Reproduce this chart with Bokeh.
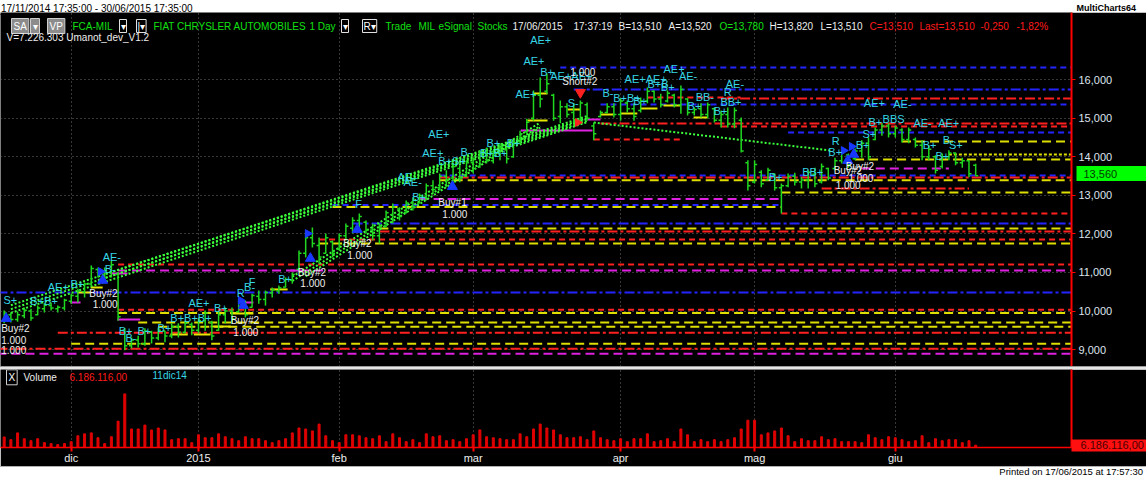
from bokeh.plotting import figure
from bokeh.models import (Range1d, LinearAxis, FixedTicker, NumeralTickFormatter, Label, Grid,
                          ColumnDataSource, Div)
from bokeh.layouts import column
from bokeh.embed import file_html
from bokeh.resources import INLINE
from bokeh.core.properties import value

# ---------------- data ----------------
month_idx = [10, 29, 50, 70, 92, 112, 133]
month_lbl = ["dic", "2015", "feb", "mar", "apr", "mag", "giu"]
price_ticks = [9000, 10000, 11000, 12000, 13000, 14000, 15000, 16000]

bar_open = [9750, 9900, 9780, 9880, 10000, 9900, 10060, 10140, 10060, 10080,
            10250, 10380, 10500, 10700, 11080, 10950, 11000, 10950, 9500, 9100,
            9250, 9150, 9450, 9300, 9480, 9350, 9600, 9450, 9650, 9500,
            9750, 9700, 9500, 9900, 10000, 9980, 10200, 10100, 10380, 10300,
            10470, 10520, 10620, 10800, 11080, 11500, 11900, 11700, 11500, 11800,
            11600, 11950, 12150, 12350, 12300, 12100, 11950, 12200, 12500, 12650,
            12550, 12800, 12800, 12950, 13250, 13200, 13500, 13450, 13700, 13500,
            13850, 13750, 14100, 13900, 14100, 14200, 14000, 14400, 14650, 15000,
            15600, 15700, 15600, 15050, 15300, 15150, 14950, 15350, 14800, 15050,
            15150, 15300, 15100, 15400, 15250, 15200, 15450, 15700, 15500, 15450,
            15600, 15350, 15500, 15150, 15250, 15100, 15250, 14950, 15100, 14850,
            14950, 13850, 13350, 13600, 13400, 13550, 13200, 13250, 13500, 13350,
            13400, 13550, 13350, 13700, 13700, 13900, 14050, 13950, 14150, 14350,
            14450, 14700, 14800, 14600, 14700, 14450, 14450, 14300, 14000, 14000,
            13750, 14000, 14100, 13850, 13900, 13780]
bar_high = [10010, 9960, 9980, 10090, 10060, 10140, 10200, 10220, 10140, 10320,
            10450, 10580, 10740, 11180, 11130, 11130, 11310, 11000, 9550, 9310,
            9360, 9550, 9490, 9570, 9490, 9680, 9680, 9750, 9700, 9810,
            10010, 9750, 10010, 10090, 10090, 10320, 10270, 10450, 10530, 10530,
            10610, 10660, 10870, 11000, 11570, 12040, 12170, 11910, 12010, 11830,
            12010, 12270, 12430, 12530, 12350, 12270, 12270, 12610, 12790, 12690,
            12870, 12950, 13050, 13310, 13390, 13570, 13650, 13830, 13780, 13910,
            13980, 14170, 14240, 14170, 14350, 14240, 14430, 14680, 14990, 15720,
            16060, 16160, 15640, 15460, 15390, 15390, 15460, 15410, 14890, 15200,
            15390, 15390, 15520, 15460, 15390, 15540, 15800, 15720, 15640, 15720,
            15640, 15850, 15520, 15280, 15390, 15410, 15280, 15200, 15280, 15280,
            15020, 13910, 13910, 13650, 13720, 13570, 13310, 13570, 13590, 13470,
            13650, 13720, 13830, 13720, 13980, 14170, 14090, 14220, 14430, 14500,
            14760, 14870, 14870, 14810, 14740, 14760, 14500, 14430, 14300, 14040,
            14090, 14170, 14110, 13980, 13910, 13820]
bar_low = [9680, 9700, 9720, 9810, 9750, 9890, 9960, 10010, 9960, 10010,
           10190, 10220, 10350, 10660, 10870, 10790, 10870, 9750, 8980, 9030,
           9050, 9100, 9160, 9240, 9190, 9290, 9310, 9420, 9370, 9420,
           9490, 9240, 9490, 9680, 9680, 9960, 9830, 10090, 10190, 10140,
           10350, 10450, 10610, 10710, 11050, 11390, 11650, 11230, 11490, 11390,
           11570, 11830, 12010, 12170, 12010, 11830, 11750, 12170, 12270, 12350,
           12530, 12610, 12790, 12870, 13050, 13130, 13210, 13390, 13340, 13470,
           13570, 13720, 13830, 13830, 13910, 13830, 13980, 14350, 14610, 14940,
           15280, 15640, 14940, 14870, 15020, 14870, 14870, 14940, 14430, 15020,
           15130, 15020, 14940, 15150, 14940, 15150, 15390, 15410, 15280, 15410,
           15280, 15120, 15070, 15070, 15020, 15000, 14890, 14760, 14760, 14740,
           14110, 13130, 13310, 13210, 13390, 13130, 12530, 13210, 13260, 13180,
           13180, 13210, 13310, 13390, 13650, 13830, 13720, 13910, 13980, 13910,
           14430, 14550, 14500, 14500, 14370, 14350, 14240, 13910, 13910, 13570,
           13700, 13910, 13780, 13720, 13470, 13510]
bar_close = [9950, 9780, 9900, 10020, 9820, 10080, 10150, 10080, 10100, 10280,
             10400, 10520, 10700, 11100, 10950, 11050, 11200, 9850, 9100, 9250,
             9150, 9480, 9300, 9500, 9350, 9600, 9450, 9680, 9500, 9750,
             9950, 9350, 9900, 10000, 9800, 10250, 9900, 10400, 10300, 10480,
             10550, 10600, 10820, 10950, 11500, 11900, 11750, 11400, 11900, 11500,
             11950, 12200, 12350, 12450, 12100, 11950, 12200, 12550, 12700, 12450,
             12800, 12700, 13000, 13250, 13150, 13500, 13400, 13750, 13450, 13850,
             13700, 14100, 13900, 14100, 14250, 13950, 14350, 14600, 14900, 15600,
             15500, 15900, 15000, 15300, 15100, 14950, 15400, 15000, 14600, 15150,
             15300, 15100, 15450, 15250, 15050, 15450, 15700, 15500, 15350, 15650,
             15350, 15750, 15150, 15230, 15100, 15350, 14950, 15100, 14850, 15200,
             14150, 13250, 13800, 13300, 13650, 13200, 13250, 13500, 13350, 13400,
             13600, 13300, 13750, 13450, 13900, 14100, 13800, 14150, 14350, 14000,
             14700, 14800, 14600, 14750, 14450, 14700, 14300, 14000, 14200, 13650,
             14000, 14100, 13850, 13900, 13560, 13510]
volume_m = [10.4, 9.0, 12.5, 9.5, 8.5, 9.5, 7.5, 7.0, 6.5, 7.0,
            8.0, 11.0, 12.0, 12.5, 10.0, 7.0, 10.5, 18.5, 32.5, 14.5,
            14.5, 16.5, 14.0, 15.0, 14.0, 9.0, 9.5, 9.5, 7.5,
            11.5, 10.0, 10.0, 12.0, 10.5, 9.5, 8.5, 10.5, 9.5, 9.5, 8.5,
            7.5, 8.5, 9.5, 12.5, 15.0, 14.5, 13.5, 17.0, 11.0, 8.5,
            7.5, 11.5, 11.5, 11.0, 10.0, 9.5, 11.0, 8.0, 12.0, 10.0,
            8.0, 9.0, 7.5, 12.0, 10.5, 11.0, 8.5, 9.0, 8.0, 9.5,
            11.5, 14.0, 10.5, 10.0, 9.5, 9.0, 9.0, 12.0, 10.5, 14.5,
            17.0, 15.0, 14.0, 11.5, 10.0, 10.0, 10.5, 9.0, 13.5, 10.0,
            9.0, 8.5, 9.5, 8.0, 9.5, 9.5, 12.0, 8.0, 8.5, 9.5,
            8.0, 14.5, 11.5, 8.0, 9.0, 8.0, 9.0, 8.0, 9.0, 10.0,
            14.5, 19.0, 19.0, 11.5, 12.5, 13.5, 15.0, 11.0, 8.0, 9.5,
            8.5, 8.5, 10.5, 9.0, 9.5, 8.0, 8.0, 8.0, 7.5, 11.5,
            10.0, 9.0, 10.5, 10.0, 9.0, 8.0, 8.5, 11.0, 7.5, 9.5,
            8.5, 9.0, 9.0, 7.5, 8.5, 6.19]

# horizontal level lines (kind, price, from bar, to bar; None = open to the right)
lvl_kind = ["blue_dash", "blue_dd", "red_dd", "blue_dash", "red_dd", "red_dash", "blue_dash",
            "yel_dash", "yel_dot", "yel_dash", "mag_dash", "blue_dash", "red_dd", "yel_dash",
            "red_dd", "yel_dash", "mag_dash", "blue_dash", "yel_dash", "red_dash", "blue_dd",
            "yel_dash", "red_dd", "red_dash", "yel_dash", "red_dash", "mag_dash", "blue_dd",
            "red_dash", "yel_dash", "yel_dash", "yel_dash", "red_dd", "yel_dash", "red_dd", "mag_dash"]
lvl_price = [16320, 15750, 15515, 15360, 14865, 14790, 14635,
             14400, 14060, 13930, 13700, 13515, 13465, 13390,
             13180, 13075, 12905, 12750, 12700, 12530, 12270,
             12140, 12065, 11855, 11750, 11205, 11050, 10480,
             10030, 9950, 9700, 9590, 9435, 9150, 9020, 8890]
lvl_from = [83, 85, 107, 89, 89, 107, 117,
            134, 141, 127, 128, 65, 65, 65,
            122, 116, 62, 49, 49, 116, 52,
            56, 56, 47, 47, 17, 17, -1,
            17, 17, 20, 23, 8, 10, -1, -1]
lvl_to = [None, None, None, None, None, None, None,
          None, None, None, 141, None, None, None,
          144, None, 116, 116, 116, None, None,
          None, None, None, None, None, None, None,
          None, None, None, None, None, None, None, None]

# short signal boxes (kind, from bar, to bar, price)
box_kind = ["yel", "mag", "yel", "mag", "mag", "yel", "yel", "yel", "yel", "mag", "yel", "mag",
            "yel", "mag", "yel", "yel", "mag", "red", "yel", "yel", "yel", "yel", "yel", "red"]
box_from = [10.9, 9.9, 12.9, 15.9, 16.9, 24.8, 28.3, 30.8, 33.8, 35.3, 39.7, 42.7,
            78.1, 77.1, 79.0, 84.1, 87.1, 88.0, 89.0, 92.0, 95.0, 98.4, 102.9, 96.0]
box_to = [12.9, 11.4, 14.7, 18.4, 20.3, 27.4, 30.8, 33.8, 37.2, 37.2, 42.3, 44.2,
          81.1, 87.8, 81.1, 86.0, 89.0, 100.9, 90.9, 94.5, 97.5, 100.9, 105.0, 109.9]
box_price = [10480, 10220, 10610, 10975, 9780, 9390, 9390, 9600, 9935, 10220, 10560, 11050,
             14945, 14685, 15645, 15230, 14970, 14450, 15100, 15125, 15255, 15335, 15020, 15540]

# dotted trend lines
trend_x0 = [1, 1, 1, 14, 14, 43, 43, 45, 88]
trend_p0 = [10150, 10050, 9950, 10900, 10800, 10890, 10780, 10900, 14890]
trend_x1 = [87, 87, 87, 87, 87, 80, 80, 80, 123.4]
trend_p1 = [15060, 14980, 14900, 15010, 14930, 14890, 14800, 14760, 14165]

# cyan signal labels
sig_text = ["S+", "B+B+", "AE+", "B+", "AE-", "B-", "B+", "B-", "B+", "B+", "B+B+B+", "AE+", "B+",
            "R", "B-", "F", "B+", "F", "AE", "AE-", "B+", "AE+", "AE+", "B+S+", "B-", "B+B+",
            "B+", "B+", "AE+", "AE+", "B+", "AE+AE+", "AE+", "S-", "B-", "B+B+", "B+", "AE+AE+",
            "B+B", "B+", "AE+", "AE-", "BB-", "B+", "B+", "BB+", "R", "AE-", "B+", "BB+", "R",
            "B+", "B+", "S+", "B+", "AE+", "AE-", "BBS", "AE-", "AE+", "B+", "B", "S+", "B+"]
sig_x = [-0.1, 3.9, 6.5, 9.9, 14.7, 15.0, 17.1, 18.1, 19.9, 22.9, 24.8, 27.5, 31.3,
         34.7, 35.8, 36.5, 40.9, 52.4, 58.7, 59.6, 60.9, 62.4, 63.3, 64.8, 68.1, 71.0,
         72.0, 75.0, 78.5, 77.5, 80.0, 81.5, 76.3, 84.1, 89.3, 90.9, 93.9, 92.6,
         96.0, 98.0, 98.4, 100.7, 103.2, 102.0, 105.9, 106.9, 107.4, 107.7, 114.1, 119.1, 123.5,
         123.0, 127.1, 128.1, 129.0, 128.3, 132.7, 131.1, 135.7, 139.4, 137.1, 140.1, 141.0, 139.0]
sig_p = [10275, 10250, 10610, 10690, 11390, 11100, 9490, 9310, 9490, 9570, 9810, 10195, 10090,
         10455, 10610, 10740, 10820, 12770, 13465, 13335, 12950, 14090, 14585, 13905, 14115, 14090,
         14350, 14350, 17020, 16500, 16190, 16110, 15640, 15410, 15670, 15540, 15460, 16010,
         15900, 15825, 16290, 16110, 15565, 15330, 15200, 15435, 15695, 15900, 13465, 13595, 14400,
         14115, 14320, 14605, 14915, 15385, 15360, 14995, 14890, 14890, 14295, 14425, 14320, 14035]

# white order labels
ord_text = ["Buy#2", "1.000", "1.000", "Buy#2", "1.000", "Buy#2", "1.000", "Buy#2", "1.000",
            "Buy#2", "1.000", "Buy#1", "1.000", "1.000", "Short#2", "Buy#2", "1.000", "Buy#2", "1.000"]
ord_x = [-0.45, -0.45, -0.45, 12.7, 13.2, 33.8, 34.2, 43.8, 44.2,
         50.6, 51.2, 64.8, 65.4, 84.5, 83.3, 123.8, 124.1, 125.6, 126.0]
ord_p = [9545, 9260, 9000, 10455, 10170, 9755, 9445, 11000, 10715,
         11750, 11465, 12815, 12530, 16215, 15955, 13645, 13280, 13750, 13440]

buy_x = [0.3, 14.7, 35.7, 45.7, 52.7, 66.9, 125.9, 126.8]
buy_p = [9805, 10795, 10145, 11365, 12115, 13230, 13905, 14065]
short_x = [86.0]
short_p = [15670]
entry_x = [14.4, 35.3, 45.3, 125.3, 126.5]
entry_p = [11025, 10275, 12010, 14165, 14270]
exit_x = [85.6]
exit_p = [14890]

last_price_label = "13,560"
last_price = 13560
last_volume_label = "6.186.116,00"
last_volume = 6.19

# ---------------- layout / style ----------------
W = 1146
AXW = 75
FW = W - AXW          # 1071
PH = 354
VH = 97
X0, X1 = -0.55, 159.3
P0, P1 = 8560, 17746
VOL_BASE, VOL_TOP = 5.0, 45.0
FONT = "Liberation Sans"
CYAN = "#36d6e6"
GREEN = "#12e012"
REDT = "#ff1a1a"
WHITE = "#eeeeee"
BAR = "#1fd81f"
DOT = "#3cff3c"
GRID = "#6e6e6e"
MAIN_W = 41           # approx. width of the price axis (tick + standoff + labels)

LSTY = {
    "blue_dash": ("#2424ff", "6 4"),
    "blue_dd": ("#2424ff", "10 3 3 3"),
    "red_dash": ("#ff2020", "6 4"),
    "red_dd": ("#ff2020", "10 3 3 3"),
    "yel_dash": ("#dede00", "9 5"),
    "yel_dot": ("#dede00", "3 2"),
    "mag_dash": ("#e020e0", "9 5"),
}
BSTY = {"yel": "#e6e600", "mag": "#e020e0", "red": "#ff2020"}


def hy(y):
    return PH - (y - 12)


# top strip
top = Div(text=('<div style="display:flex;justify-content:space-between;align-items:center;'
                'height:12px;width:1146px;background:#ffffff;color:#000;font-family:\'Liberation Sans\';'
                'font-size:10px;line-height:11px;overflow:hidden;border-bottom:1px solid #909090;box-sizing:border-box;">'
                '<span style="padding-left:1px;">17/11/2014 17:35:00 - 30/06/2015 17:35:00</span>'
                '<span style="font-weight:bold;font-size:9px;padding-right:10px;">MultiCharts64</span></div>'),
          width=W, height=12, margin=0)

# price pane
pp = figure(width=W, height=PH, x_range=Range1d(X0, X1), y_range=Range1d(P0, P1),
            output_backend="svg", toolbar_location=None, x_axis_location=None, y_axis_location="right",
            background_fill_color="black", border_fill_color="black", outline_line_color=None,
            min_border_left=0, min_border_top=0, min_border_bottom=0, min_border_right=AXW)
for g in pp.xgrid:
    g.visible = False
ya = pp.yaxis[0]
ya.ticker = FixedTicker(ticks=price_ticks)
ya.formatter = NumeralTickFormatter(format="0,0")
ya.axis_line_color = "#ff0000"
ya.axis_line_width = 2
ya.major_tick_line_color = "#ff0000"
ya.major_tick_out = 4
ya.major_tick_in = 0
ya.minor_tick_line_color = None
ya.major_label_text_color = "#dde4ee"
ya.major_label_text_font = FONT
ya.major_label_text_font_size = "11px"
ya.major_label_standoff = 3
pp.ygrid.grid_line_color = GRID
pp.ygrid.grid_line_dash = "1 3"
pp.add_layout(Grid(dimension=0, ticker=FixedTicker(ticks=month_idx), grid_line_color=GRID, grid_line_dash="1 3"))

# last price marker drawn by a second axis (tick = box, label = value)
mark = LinearAxis(ticker=FixedTicker(ticks=[last_price]),
                  major_label_overrides={last_price: last_price_label},
                  axis_line_color=None, minor_tick_line_color=None,
                  major_tick_line_color="#00ff00", major_tick_line_width=15,
                  major_tick_in=MAIN_W - 2, major_tick_out=AXW - MAIN_W,
                  major_label_standoff=-66, major_label_text_color="#003a00",
                  major_label_text_font=FONT, major_label_text_font_size="11px")
pp.add_layout(mark, "right")

# level lines
for kind, (col, dash) in LSTY.items():
    xs0, xs1, ps = [], [], []
    for k, pr, a, b in zip(lvl_kind, lvl_price, lvl_from, lvl_to):
        if k == kind:
            xs0.append(a)
            xs1.append(X1 if b is None else b)
            ps.append(pr)
    if xs0:
        pp.segment(x0=xs0, y0=ps, x1=xs1, y1=ps, line_color=col, line_width=2, line_dash=dash)

# short signal boxes
for kind, col in BSTY.items():
    sel = [i for i, k in enumerate(box_kind) if k == kind]
    pp.segment(x0=[box_from[i] for i in sel], y0=[box_price[i] for i in sel],
               x1=[box_to[i] for i in sel], y1=[box_price[i] for i in sel],
               line_color=col, line_width=2, line_dash="solid" if kind != "red" else "6 4")

# dotted trend lines
pp.segment(x0=trend_x0, y0=trend_p0, x1=trend_x1, y1=trend_p1, line_color=DOT, line_width=2, line_dash="2 2")

# OHLC bars
idx = list(range(len(bar_close)))
src = ColumnDataSource(dict(i=idx, o=bar_open, h=bar_high, l=bar_low, c=bar_close,
                            il=[i - 0.38 for i in idx], ir=[i + 0.38 for i in idx]))
pp.segment(x0="i", y0="l", x1="i", y1="h", source=src, line_color=BAR, line_width=1.5)
pp.segment(x0="il", y0="o", x1="i", y1="o", source=src, line_color=BAR, line_width=1.5)
pp.segment(x0="i", y0="c", x1="ir", y1="c", source=src, line_color=BAR, line_width=1.5)

# markers
pp.scatter(x=buy_x, y=buy_p, marker="triangle", size=10, fill_color="#1838ff", line_color="#1838ff")
pp.scatter(x=short_x, y=short_p, marker="inverted_triangle", size=10, fill_color="#ff2020", line_color="#ff2020")
pp.scatter(x=entry_x, y=entry_p, marker="triangle", angle=-1.5708, size=8, fill_color="#1838ff", line_color="#1838ff")
pp.scatter(x=exit_x, y=exit_p, marker="triangle", angle=-1.5708, size=8, fill_color="#ff2020", line_color="#ff2020")

# texts
pp.text(x=sig_x, y=sig_p, text=sig_text, text_font=value(FONT), text_font_size="11px",
        text_color=CYAN, text_baseline="middle", text_align="left")
pp.text(x=ord_x, y=ord_p, text=ord_text, text_font=value(FONT), text_font_size="10px",
        text_color=WHITE, text_baseline="middle", text_align="left")

# header
row1 = hy(25.5)
hdr = [("FCA-MIL", 72, GREEN), ("FIAT CHRYSLER AUTOMOBILES", 153, GREEN), ("1 Day", 309, GREEN),
       ("Trade", 385, GREEN), ("MIL", 418, GREEN), ("eSignal", 438, GREEN), ("Stocks", 477, GREEN),
       ("17/06/2015", 512, WHITE), ("17:37:19", 573, WHITE), ("B=13,510", 618, WHITE),
       ("A=13,520", 668, WHITE), ("O=13,780", 719, GREEN), ("H=13,820", 769, WHITE),
       ("L=13,510", 820, WHITE), ("C=13,510", 869, REDT), ("Last=13,510", 919, REDT),
       ("-0,250", 980, REDT), ("-1,82%", 1016, REDT)]
for t, x, c in hdr:
    pp.add_layout(Label(x=x, y=row1, x_units="screen", y_units="screen", text=t, text_font=FONT,
                        text_font_size="10px", text_color=c, text_baseline="middle"))
for t, x, bg in [("SA", 11, "#8c8c8c"), ("▾", 30, "#8c8c8c"), ("VP", 47, "#8c8c8c")]:
    pp.add_layout(Label(x=x, y=row1, x_units="screen", y_units="screen", text=t, text_font=FONT,
                        text_font_size="10px", text_color="white", text_baseline="middle",
                        background_fill_color=bg, border_line_color="#d0d0d0", padding=2))
for t, x in [("▾", 119), ("|▾", 136), ("▾", 341), ("R▾", 362)]:
    pp.add_layout(Label(x=x, y=row1, x_units="screen", y_units="screen", text=t, text_font=FONT,
                        text_font_size="10px", text_color="white", text_baseline="middle",
                        background_fill_color="black", border_line_color="#e0e0e0", padding=1))
pp.add_layout(Label(x=6, y=hy(37), x_units="screen", y_units="screen", text="V=7.226.303  Umanot_dev_V1.2",
                    text_font=FONT, text_font_size="10px", text_color=WHITE, text_baseline="middle"))

# separator
sep = Div(text="", width=W, height=3, margin=0,
          styles={"background-color": "#e6e6e6", "border-top": "1px solid #9a9a9a",
                  "box-sizing": "border-box"})

# volume pane
vp = figure(width=W, height=VH, x_range=pp.x_range, y_range=Range1d(VOL_BASE, VOL_TOP),
            output_backend="svg", toolbar_location=None, x_axis_location=None, y_axis_location=None,
            background_fill_color="black", border_fill_color="black", outline_line_color=None,
            min_border_left=0, min_border_top=0, min_border_bottom=0, min_border_right=AXW)
for g in vp.xgrid + vp.ygrid:
    g.visible = False
xa = LinearAxis(ticker=FixedTicker(ticks=month_idx),
                major_label_overrides={m: l for m, l in zip(month_idx, month_lbl)})
xa.axis_line_color = "#ff0000"
xa.axis_line_width = 1.5
xa.major_tick_line_color = "#ff0000"
xa.major_tick_line_width = 2
xa.major_tick_out = 4
xa.major_tick_in = 0
xa.minor_tick_line_color = None
xa.major_label_text_color = WHITE
xa.major_label_text_font = FONT
xa.major_label_text_font_size = "11px"
xa.major_label_text_align = "left"
xa.major_label_standoff = 0
vp.add_layout(xa, "below")
yv = LinearAxis(ticker=FixedTicker(ticks=[last_volume]),
                major_label_overrides={last_volume: last_volume_label},
                axis_line_color="#ff0000", axis_line_width=2,
                major_tick_line_color="#ff1010", major_tick_line_width=12,
                major_tick_in=0, major_tick_out=AXW, minor_tick_line_color=None,
                major_label_standoff=-66, major_label_text_color="#4a0000",
                major_label_text_font=FONT, major_label_text_font_size="11px")
vp.add_layout(yv, "right")
vp.add_layout(Grid(dimension=0, ticker=FixedTicker(ticks=month_idx), grid_line_color=GRID, grid_line_dash="1 3"))
vp.vbar(x=idx, top=volume_m, bottom=VOL_BASE, width=0.3, fill_color="#e00000", line_color="#e00000")
vp.add_layout(Label(x=6, y=41.0, x_units="screen", y_units="data", text="X", text_font=FONT,
                    text_font_size="10px", text_color="white", text_baseline="middle",
                    border_line_color="#d0d0d0", padding=2))
vp.add_layout(Label(x=23, y=41.0, x_units="screen", y_units="data", text="Volume", text_font=FONT,
                    text_font_size="10px", text_color=WHITE, text_baseline="middle"))
vp.add_layout(Label(x=69, y=41.0, x_units="screen", y_units="data", text="6.186.116,00", text_font=FONT,
                    text_font_size="10px", text_color=REDT, text_baseline="middle"))
vp.add_layout(Label(x=152, y=42.0, x_units="screen", y_units="data", text="11dic14", text_font=FONT,
                    text_font_size="10px", text_color=CYAN, text_baseline="middle"))

# bottom strip
bottom = Div(text=('<div style="position:relative;height:10px;width:1146px;background:#ffffff;'
                   'overflow:visible;">'
                   '<span style="position:absolute;right:3px;top:-2px;color:#000;'
                   'font-family:\'Liberation Sans\';font-size:9.5px;line-height:10px;white-space:nowrap;">'
                   'Printed on 17/06/2015 at 17:57:30</span></div>'),
             width=W, height=11, margin=0,
             styles={"background-color": "#ffffff", "border-top": "1px solid #b0b0b0", "box-sizing": "border-box"})

layout = column(top, pp, sep, vp, bottom, spacing=0)
open("out.html", "w").write(file_html(layout, INLINE))
